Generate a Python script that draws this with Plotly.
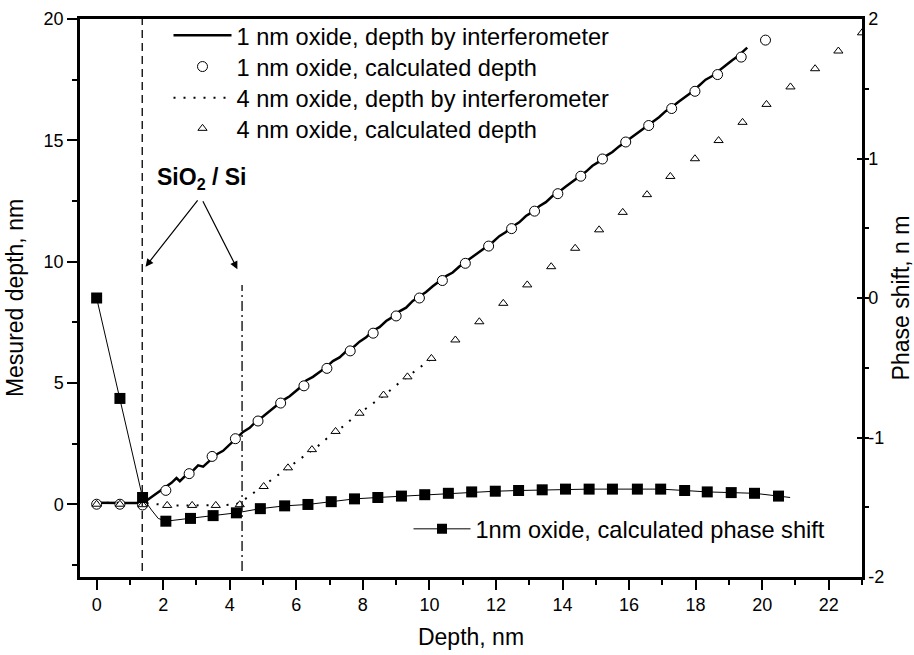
import plotly.graph_objects as go

# ---------------- data ----------------
# 1 nm oxide, depth by interferometer (solid line)
x_int1 = [0.00, 0.40, 0.80, 1.20, 1.45, 1.65, 1.85, 2.05, 2.25, 2.40, 2.50, 2.65, 2.85, 3.05, 3.20,
          3.40, 3.60, 3.80, 4.00, 4.20, 4.40, 4.60, 4.80, 5.00, 5.20, 5.40, 5.60, 5.80, 6.00, 6.15,
          6.30, 6.50, 6.70, 6.90, 7.10, 7.30, 7.50, 7.70, 7.90, 8.10, 8.30, 8.50, 8.70, 8.90, 9.10,
          9.30, 9.50, 9.70, 9.90, 10.10, 10.30, 10.50, 10.70, 10.90, 11.10, 11.30, 11.50, 11.70,
          11.90, 12.10, 12.30, 12.50, 12.70, 12.90, 13.10, 13.30, 13.50, 13.70, 13.90, 14.10, 14.30,
          14.50, 14.70, 14.90, 15.10, 15.30, 15.50, 15.70, 15.90, 16.10, 16.30, 16.50, 16.70, 16.90,
          17.10, 17.30, 17.50, 17.70, 17.90, 18.10, 18.30, 18.50, 18.70, 18.90, 19.10, 19.30, 19.55]
y_int1 = [0.06, 0.07, 0.05, 0.05, 0.10, 0.30, 0.50, 0.70, 0.88, 1.08, 0.95, 1.15, 1.32, 1.60, 1.55,
          1.80, 2.05, 2.20, 2.45, 2.70, 2.98, 3.15, 3.42, 3.62, 3.85, 4.05, 4.28, 4.45, 4.70, 4.85,
          5.10, 5.25, 5.45, 5.65, 5.90, 6.05, 6.30, 6.45, 6.70, 6.88, 7.15, 7.30, 7.55, 7.72, 7.95,
          8.10, 8.38, 8.55, 8.75, 8.98, 9.18, 9.40, 9.55, 9.80, 10.00, 10.20, 10.40, 10.62,
          10.80, 11.05, 11.22, 11.45, 11.62, 11.88, 12.05, 12.28, 12.45, 12.70, 12.88, 13.10, 13.30,
          13.52, 13.70, 13.95, 14.12, 14.35, 14.52, 14.75, 14.95, 15.15, 15.35, 15.55, 15.78, 15.95,
          16.20, 16.38, 16.60, 16.80, 17.00, 17.25, 17.50, 17.65, 17.85, 18.08, 18.30, 18.50, 18.82]

# 1 nm oxide, calculated depth (open circles)
x_calc1 = [0.00, 0.70, 1.38, 2.08, 2.78, 3.47, 4.17, 4.85, 5.53, 6.23, 6.92, 7.62, 8.31, 9.00, 9.70,
           10.39, 11.08, 11.78, 12.47, 13.16, 13.86, 14.55, 15.20, 15.90, 16.59, 17.28, 17.98, 18.66,
           19.37, 20.10]
y_calc1 = [0.00, 0.00, -0.03, 0.57, 1.26, 1.97, 2.70, 3.43, 4.17, 4.88, 5.60, 6.32, 7.05, 7.76, 8.50,
           9.22, 9.93, 10.64, 11.36, 12.08, 12.80, 13.52, 14.23, 14.93, 15.61, 16.31, 17.02, 17.71,
           18.43, 19.13]

# 4 nm oxide, depth by interferometer (dotted line)
x_int4 = [0.0, 0.5, 1.0, 1.4, 1.8, 2.3, 2.8, 3.3, 3.8, 4.2, 4.45, 4.7, 4.95, 5.2, 5.45, 5.7, 5.95,
          6.2, 6.45, 6.7, 6.95, 7.2, 7.45, 7.7, 7.95, 8.2, 8.45, 8.7, 8.95, 9.2, 9.45, 9.7, 9.95, 10.1]
y_int4 = [0.06, 0.06, 0.05, 0.05, 0.00, -0.05, -0.05, -0.05, -0.04, 0.00, 0.20, 0.45, 0.72, 0.95,
          1.20, 1.45, 1.68, 1.95, 2.20, 2.45, 2.75, 3.00, 3.25, 3.55, 3.80, 4.05, 4.30, 4.55, 4.85,
          5.10, 5.35, 5.60, 5.88, 6.05]

# 4 nm oxide, calculated depth (open triangles)
x_calc4 = [0.00, 0.70, 1.38, 2.12, 2.87, 3.58, 4.30, 5.02, 5.75, 6.47, 7.18, 7.90, 8.62, 9.34, 10.06,
           10.78, 11.50, 12.22, 12.94, 13.66, 14.38, 15.10, 15.81, 16.54, 17.24, 17.98, 18.69, 19.41,
           20.13, 20.85, 21.59, 22.29, 23.00]
y_calc4 = [0.00, 0.00, -0.02, -0.05, -0.05, -0.05, -0.02, 0.73, 1.50, 2.25, 3.00, 3.75, 4.50, 5.25,
           6.01, 6.77, 7.52, 8.28, 9.04, 9.79, 10.55, 11.31, 12.03, 12.76, 13.51, 14.24, 14.99, 15.74,
           16.48, 17.20, 17.95, 18.68, 19.43]

# 1nm oxide, calculated phase shift (squares, right axis); size 0 = curve-only points
x_phase = [0.00, 0.70, 1.38, 1.65, 1.85, 2.08, 2.82, 3.50, 4.20, 4.92, 5.65, 6.35, 7.05, 7.75, 8.45,
           9.16, 9.86, 10.57, 11.27, 11.98, 12.68, 13.39, 14.09, 14.80, 15.50, 16.25, 16.95, 17.67,
           18.35, 19.07, 19.77, 20.49, 20.84]
y_phase = [0.00, -0.72, -1.43, -1.52, -1.58, -1.60, -1.58, -1.56, -1.54, -1.51, -1.49, -1.48, -1.46,
           -1.44, -1.43, -1.42, -1.41, -1.40, -1.39, -1.385, -1.38, -1.375, -1.37, -1.37, -1.37,
           -1.37, -1.37, -1.38, -1.39, -1.395, -1.40, -1.42, -1.43]
phase_marker = [11, 11, 11, 0, 0, 11, 11, 11, 11, 11, 11, 11, 11, 11, 11, 11, 11, 11, 11, 11, 11,
                11, 11, 11, 11, 11, 11, 11, 11, 11, 11, 11, 0]

# SiO2/Si interfaces
interface_x = [1.37, 4.37]
interface_top = [20.0, 9.04]

x_ticks = [0, 2, 4, 6, 8, 10, 12, 14, 16, 18, 20, 22]
y_ticks = [0, 5, 10, 15, 20]
y2_ticks = [-2, -1, 0, 1, 2]
y2_ticktext = ["-2", "-1", "0", "1", "2"]

FONT = "Liberation Sans, Arial, sans-serif"
L, R, T, B = 80, 52, 19, 78
PW, PH = 914 - L - R, 655 - T - B


def px_x(p):
    return (p - L) / PW


def px_y(p):
    return 1 - (p - T) / PH


fig = go.Figure()
fig.add_trace(go.Scatter(x=x_int1, y=y_int1, mode="lines", name="1 nm oxide, depth by interferometer",
                         legend="legend", showlegend=True, line=dict(color="black", width=2.5)))
fig.add_trace(go.Scatter(x=x_calc1, y=y_calc1, mode="markers", name="1 nm oxide, calculated depth",
                         legend="legend3",
                         marker=dict(symbol="circle", size=10, color="white",
                                     line=dict(color="black", width=1))))
fig.add_trace(go.Scatter(x=x_int4, y=y_int4, mode="lines", name="4 nm oxide, depth by interferometer",
                         legend="legend4", line=dict(color="black", width=2, dash="2px,8px")))
fig.add_trace(go.Scatter(x=x_calc4, y=y_calc4, mode="markers", name="4 nm oxide, calculated depth",
                         legend="legend5",
                         marker=dict(symbol="triangle-up", size=8, color="white",
                                     line=dict(color="black", width=1))))
fig.add_trace(go.Scatter(x=x_phase, y=y_phase, mode="lines+markers", yaxis="y2",
                         name="1nm oxide, calculated phase shift", legend="legend2",
                         line=dict(color="black", width=1),
                         marker=dict(symbol="square", size=phase_marker, color="black", opacity=1,
                                     line=dict(width=0))))

# interface lines
fig.add_shape(type="line", xref="x", yref="y", x0=interface_x[0], x1=interface_x[0],
              y0=-2.75, y1=interface_top[0], line=dict(color="black", width=1.3, dash="8px,5px"))
fig.add_shape(type="line", xref="x", yref="y", x0=interface_x[1], x1=interface_x[1],
              y0=-2.75, y1=interface_top[1], line=dict(color="black", width=1.3,
                                                       dash="10px,4px,2px,4px"))

fig.add_annotation(x=3.15, y=13.42, xref="x", yref="y", showarrow=False,
                   text="<b>SiO<sub>2</sub> / Si</b>", font=dict(size=23, family=FONT, color="black"))
fig.add_annotation(x=1.47, y=9.79, ax=3.07, ay=12.59, xref="x", yref="y", axref="x", ayref="y",
                   text="", showarrow=True, arrowhead=2, arrowsize=1.3, arrowwidth=1.2,
                   arrowcolor="black")
fig.add_annotation(x=4.23, y=9.69, ax=3.17, ay=12.55, xref="x", yref="y", axref="x", ayref="y",
                   text="", showarrow=True, arrowhead=2, arrowsize=1.3, arrowwidth=1.2,
                   arrowcolor="black")

LEG_FONT = dict(size=23.6, family=FONT, color="black")


def leg(row_y, left=168.5, width=58):
    return dict(x=px_x(left), y=px_y(row_y), xanchor="left", yanchor="middle",
                bgcolor="rgba(0,0,0,0)", borderwidth=0, itemwidth=width, font=LEG_FONT,
                visible=True)


fig.update_layout(
    width=914, height=655,
    showlegend=True,
    margin=dict(l=L, r=R, t=T, b=B, autoexpand=False),
    plot_bgcolor="white", paper_bgcolor="white",
    font=dict(family=FONT, size=18, color="black"),
    legend=leg(35.5),
    legend3=leg(66.7),
    legend4=leg(98),
    legend5=leg(128.5),
    legend2=leg(529, left=408.5, width=57),
    xaxis=dict(range=[-0.5, 23], tickvals=x_ticks, showgrid=False, zeroline=False,
               showline=True, linewidth=2.5, linecolor="black", mirror=True, automargin=False,
               ticks="outside", ticklen=10, tickwidth=1.8, tickcolor="black",
               minor=dict(dtick=1, tick0=0, ticks="outside", ticklen=5, tickwidth=1.8,
                          tickcolor="black"),
               title=dict(text="Depth, nm", font=dict(size=23, family=FONT), standoff=15)),
    yaxis=dict(range=[-3, 20], tickvals=y_ticks, showgrid=False, zeroline=False,
               showline=True, linewidth=2.5, linecolor="black", automargin=False,
               ticks="outside", ticklen=10, tickwidth=1.8, tickcolor="black",
               minor=dict(dtick=2.5, tick0=0, ticks="outside", ticklen=5, tickwidth=1.8,
                          tickcolor="black"),
               title=dict(text="Mesured depth, nm", font=dict(size=23, family=FONT), standoff=14)),
    yaxis2=dict(range=[-2, 2], overlaying="y", side="right", tickvals=y2_ticks,
                ticktext=y2_ticktext, showgrid=False, zeroline=False, automargin=False,
                showline=True, linewidth=2.5, linecolor="black",
                ticks="inside", ticklen=5, tickwidth=1.8, tickcolor="black",
                minor=dict(dtick=0.5, tick0=0, ticks="outside", ticklen=4, tickwidth=1.5,
                           tickcolor="black"),
                title=dict(text="Phase shift, n m", font=dict(size=23, family=FONT), standoff=13)),
)

fig.write_html("out.html", config={"displayModeBar": False},
               post_script="document.body.style.margin='0px';document.body.style.padding='0px';")
